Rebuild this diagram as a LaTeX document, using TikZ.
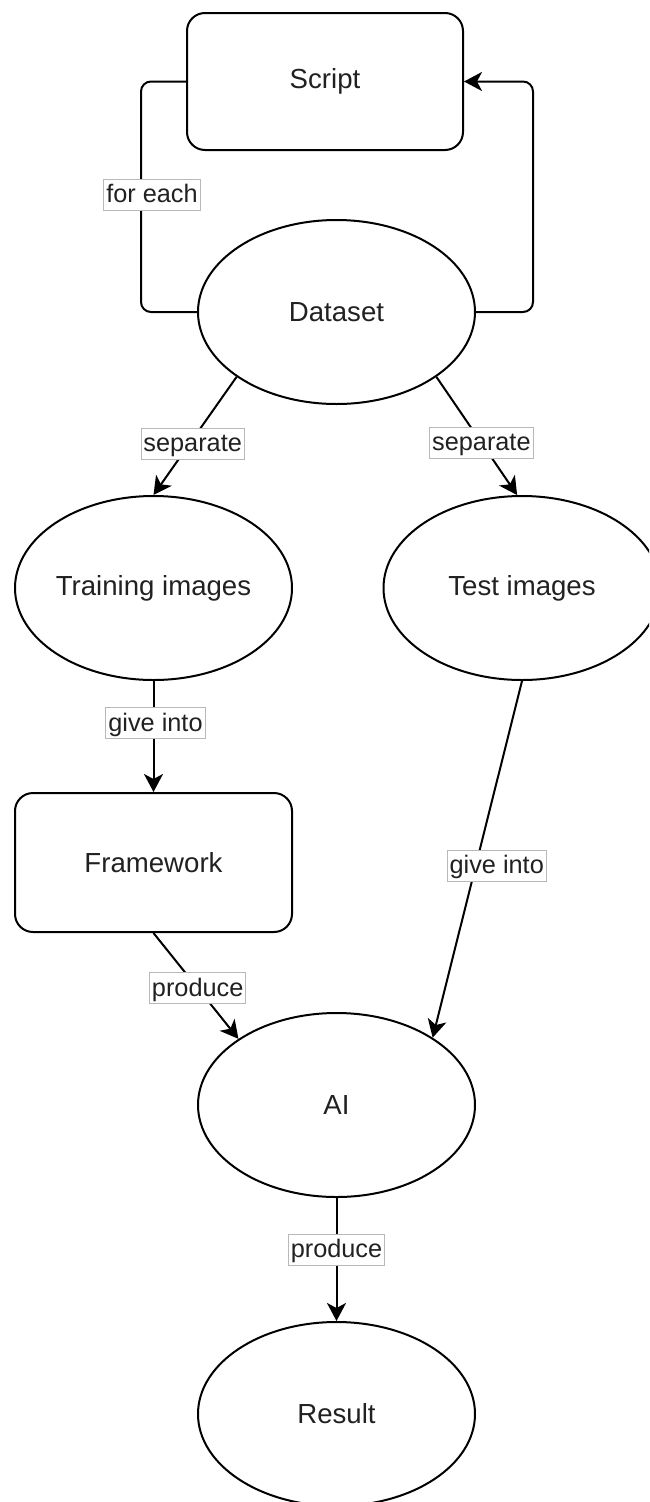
\documentclass[tikz,border=0pt]{standalone}
\usepackage{fontspec}
\setmainfont{Liberation Sans}
\usetikzlibrary{shapes.geometric,arrows.meta}
\definecolor{txt}{rgb}{0.13,0.13,0.13}
\definecolor{lblborder}{rgb}{0.72,0.72,0.72}
\begin{document}
\begin{tikzpicture}[x=1pt,y=-1pt,
  box/.style={draw, line width=2pt, rounded corners=18pt, minimum width=276pt, minimum height=137pt, inner sep=0pt, font=\fontsize{27.6}{33}\selectfont, text=txt},
  oval/.style={draw, ellipse, line width=2pt, minimum width=277pt, minimum height=184pt, inner sep=0pt, font=\fontsize{27.6}{33}\selectfont, text=txt},
  conn/.style={line width=2pt, rounded corners=10pt},
  arr/.style={conn, -{Stealth[length=18pt,width=19pt,inset=5pt]}},
  lbl/.style={draw=lblborder, sharp corners, line width=0.8pt, fill=white, font=\fontsize{25.3}{30}\selectfont, text=txt, inner xsep=2.5pt, inner ysep=1.5pt, text height=22pt, text depth=6pt}]
\useasboundingbox (0,0) rectangle (649,1502);
\clip (0,0) rectangle (649,1502);

\node[box]  (sc) at (325,81.5) {Script};
\node[oval] (ds) at (336.5,312) {Dataset};
\node[oval] (tr) at (153.5,588) {Training images};
\node[oval] (te) at (522,588) {Test images};
\node[box, minimum width=277pt, minimum height=139pt] (fw) at (153.5,862.5) {Framework};
\node[oval] (ai) at (336.5,1105) {AI};
\node[oval] (rs) at (336.5,1414) {Result};

% loops between Dataset and Script
\draw[conn] (sc.west) -- ++(-45,0) |- node[lbl, pos=0.245, xshift=11pt] {for each} (ds.west);
\draw[arr] (ds.east) -- ++(57,0) |- (sc.east);

% separate
\draw[arr] (ds.213.8) -- node[lbl, pos=0.565, xshift=3pt] {separate} (tr.north);
\draw[arr] (ds.-33.8) -- node[lbl, pos=0.557] {separate} (te.93);

% give into
\draw[arr] (tr.south) -- node[lbl, pos=0.38, xshift=2pt] {give into} (fw.north);
\draw[arr] (te.south) -- node[lbl, pos=0.518, xshift=21pt] {give into} (ai.35);

% produce
\draw[arr] (fw.south) -- node[lbl, pos=0.52] {produce} (ai.146);
\draw[arr] (ai.south) -- node[lbl, pos=0.42] {produce} (rs.north);
\end{tikzpicture}
\end{document}
